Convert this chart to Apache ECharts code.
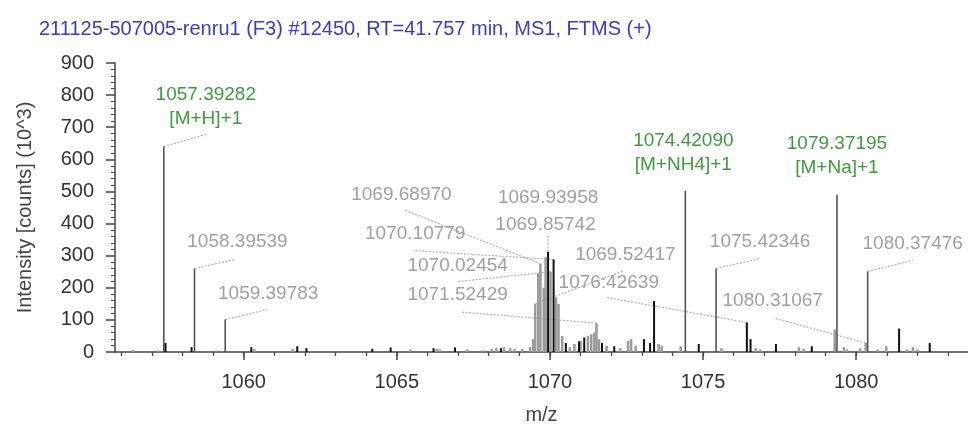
<!DOCTYPE html>
<html><head><meta charset="utf-8">
<script src="https://cdn.jsdelivr.net/npm/echarts@6/dist/echarts.min.js"></script>
<style>html,body{margin:0;padding:0;background:#fff}#c{width:968px;height:430px}</style>
</head><body><div id="c"></div><script>
// ---------- data ----------
const titleText = "211125-507005-renru1 (F3) #12450, RT=41.757 min, MS1, FTMS (+)";
const xTickLabels = [1060, 1065, 1070, 1075, 1080];
const yTickLabels = [0, 100, 200, 300, 400, 500, 600, 700, 800, 900];
const xName = "m/z";
const yName = "Intensity [counts] (10^3)";

// labelled main isotope peaks (dark grey sticks)
const mainMz  = [1057.39282, 1058.39539, 1059.39783, 1074.42090, 1075.42346, 1079.37195, 1080.37476];
const mainInt = [640, 260, 101, 502, 260, 490, 251];

// black centroid sticks
const blackMz  = [1057.45, 1058.30, 1060.25, 1061.75, 1062.05, 1064.20, 1064.80, 1066.20, 1066.90, 1068.40,
                  1069.94, 1070.12, 1070.52, 1070.95, 1071.12, 1071.70, 1072.10, 1073.07, 1073.27, 1073.40,
                  1074.86, 1076.43, 1076.55, 1077.38, 1078.55, 1081.40, 1082.40];
const blackInt = [28, 15, 15, 18, 12, 10, 14, 12, 14, 12,
                  312, 288, 28, 33, 45, 28, 18, 40, 28, 159,
                  25, 92, 40, 25, 18, 73, 28];

// grey profile sticks
const greyMz  = [1056.40, 1057.20, 1059.10, 1060.35, 1061.60, 1065.45, 1066.30, 1066.40, 1067.30, 1067.80,
                 1068.10, 1068.25, 1068.50, 1068.70, 1068.85, 1069.10, 1069.35, 1069.45, 1069.52, 1069.62,
                 1069.69, 1069.80, 1069.86, 1070.02, 1070.20, 1070.28, 1070.40, 1070.65, 1070.80, 1071.00,
                 1071.24, 1071.35, 1071.45, 1071.52, 1071.60, 1071.85, 1072.30, 1072.55, 1072.65, 1072.80,
                 1073.55, 1073.65, 1074.27, 1075.60, 1076.72, 1076.87, 1078.13, 1078.28, 1079.30, 1079.60,
                 1079.70, 1080.13, 1080.31, 1080.70, 1080.98, 1081.66, 1081.85, 1082.00];
const greyInt = [6, 5, 5, 10, 10, 8, 10, 8, 8, 5,
                 10, 12, 15, 12, 10, 10, 15, 40, 150, 245,
                 275, 200, 295, 250, 170, 150, 50, 15, 25, 35,
                 50, 55, 60, 90, 40, 20, 12, 35, 40, 20,
                 25, 20, 18, 12, 12, 8, 15, 10, 70, 15,
                 8, 12, 28, 8, 18, 8, 15, 8];

// peak annotations
const annText = ["1057.39282", "1058.39539", "1059.39783", "1074.42090", "1079.37195", "1075.42346",
                 "1080.37476", "1069.93958", "1069.85742", "1069.68970", "1070.10779", "1070.02454",
                 "1071.52429", "1069.52417", "1076:42639", "1080.31067"];
const annSub  = ["[M+H]+1", "", "", "[M+NH4]+1", "[M+Na]+1", "", "", "", "", "", "", "", "", "", "", ""];
const annMz   = [1057.39282, 1058.39539, 1059.39783, 1074.42090, 1079.37195, 1075.42346,
                 1080.37476, 1069.93958, 1069.85742, 1069.68970, 1070.10779, 1070.02454,
                 1071.52429, 1069.52417, 1076.42639, 1080.31067];
const annInt  = [640, 260, 101, 502, 490, 260, 251, 312, 295, 275, 288, 250, 90, 150, 92, 28];
const annGreen = [true, false, false, true, true, false, false, false, false, false, false, false, false, false, false, false];

// ---------- layout (pixel offsets of label centre / leader end from the peak top) ----------
const labelOff = [[42,-52],[43,-27],[43,-26],[-2,-50],[0,-51],[44,-27],[45,-28],[0,-54],[0,-33],[-139,-69],
                  [-138,-26],[-93,-6],[-139,-28],[90,-49],[-138,-40],[-93,-42]];
const leadOff  = [[42,-12],[40,-9],[42,-10],null,null,[44,-10],[45,-11],[0,-17],null,[-137,-54],
                  [-140,-9],[-94,10],[-135,-11],[88,-33],[-140,-25],[-92,-25]];

const FONT = '"Liberation Sans", Arial, sans-serif';
const minorTicks = [];
for (let v = 1056; v <= 1083; v++) minorTicks.push(v);

function stickSeries(mz, inten, color, width, z) {
  return {
    type: 'custom', coordinateSystem: 'cartesian2d', z: z, silent: true, animation: false, clip: true,
    data: mz.map((m, i) => [m, inten[i]]),
    encode: { x: 0, y: 1 },
    renderItem: function (params, api) {
      const p0 = api.coord([api.value(0), 0]);
      const p1 = api.coord([api.value(0), api.value(1)]);
      return { type: 'line', shape: { x1: p0[0], y1: p0[1], x2: p1[0], y2: p1[1] },
               style: { stroke: color, lineWidth: width } };
    }
  };
}

const annData = annMz.map((m, i) => [m, annInt[i], i]);

const leaderSeries = {
  type: 'custom', coordinateSystem: 'cartesian2d', z: 1, silent: true, animation: false,
  data: annData, encode: { x: 0, y: 1 },
  renderItem: function (params, api) {
    const i = api.value(2);
    const p = api.coord([api.value(0), api.value(1)]);
    if (!leadOff[i]) return { type: 'group', children: [] };
    return { type: 'line', shape: { x1: p[0], y1: p[1], x2: p[0] + leadOff[i][0], y2: p[1] + leadOff[i][1] },
             style: { stroke: '#b0b0b0', lineWidth: 1.2, lineDash: [2, 1.5] } };
  }
};

const labelSeries = {
  type: 'custom', coordinateSystem: 'cartesian2d', z: 5, silent: true, animation: false,
  data: annData, encode: { x: 0, y: 1 },
  renderItem: function (params, api) {
    const i = api.value(2);
    const p = api.coord([api.value(0), api.value(1)]);
    const col = annGreen[i] ? '#3f9a3f' : '#a0a0a0';
    const kids = [{
      type: 'text', x: p[0] + labelOff[i][0], y: p[1] + labelOff[i][1],
      style: { text: annText[i], fill: col, fontSize: 19, fontFamily: FONT, align: 'center', verticalAlign: 'middle' }
    }];
    if (annSub[i]) kids.push({
      type: 'text', x: p[0] + labelOff[i][0], y: p[1] + labelOff[i][1] + 24,
      style: { text: annSub[i], fill: col, fontSize: 19, fontFamily: FONT, align: 'center', verticalAlign: 'middle' }
    });
    return { type: 'group', children: kids };
  }
};

const chart = echarts.init(document.getElementById('c'), null, { renderer: 'canvas' });
chart.setOption({
  animation: false,
  backgroundColor: '#ffffff',
  title: { text: titleText, left: 34, top: 14,
           textStyle: { color: '#3b3bc4', fontSize: 20, fontWeight: 'normal', fontFamily: FONT } },
  grid: { left: 115, right: 0, top: 63, bottom: 73, containLabel: false },
  xAxis: [{
    type: 'value', min: 1055.8, max: 1083.65, position: 'bottom',
    name: xName, nameLocation: 'middle', nameGap: 53,
    nameTextStyle: { color: '#444', fontSize: 20, fontFamily: FONT },
    axisLine: { show: true, lineStyle: { color: '#444', width: 1.5 } },
    axisTick: { show: true, customValues: xTickLabels, length: 8, lineStyle: { color: '#444', width: 1.5 } },
    axisLabel: { customValues: xTickLabels, margin: 20, color: '#333', fontSize: 20, fontFamily: FONT,
                 formatter: function (v) { return String(v); } },
    splitLine: { show: false }
  }, {
    type: 'value', min: 1055.8, max: 1083.65, position: 'bottom',
    axisLine: { show: false },
    axisTick: { show: true, customValues: minorTicks, length: 4, lineStyle: { color: '#444', width: 1.2 } },
    axisLabel: { show: false, customValues: minorTicks },
    splitLine: { show: false }
  }],
  yAxis: {
    type: 'value', min: 0, max: 900, interval: 100,
    name: yName, nameLocation: 'middle', nameGap: 80,
    nameTextStyle: { color: '#444', fontSize: 20, fontFamily: FONT },
    axisLine: { show: true, lineStyle: { color: '#444', width: 1.5 } },
    axisTick: { show: true, length: 9, lineStyle: { color: '#444', width: 1.5 } },
    minorTick: { show: true, splitNumber: 5, length: 4, lineStyle: { color: '#444', width: 1 } },
    axisLabel: { margin: 21, color: '#333', fontSize: 20, fontFamily: FONT,
                 formatter: function (v) { return yTickLabels.indexOf(v) >= 0 ? String(v) : ''; } },
    splitLine: { show: false }
  },
  series: [
    leaderSeries,
    stickSeries(greyMz, greyInt, '#9a9a9a', 2.5, 2),
    stickSeries(mainMz, mainInt, '#555555', 1.6, 3),
    stickSeries(blackMz, blackInt, '#111111', 2, 4),
    labelSeries
  ]
});
</script></body></html>
